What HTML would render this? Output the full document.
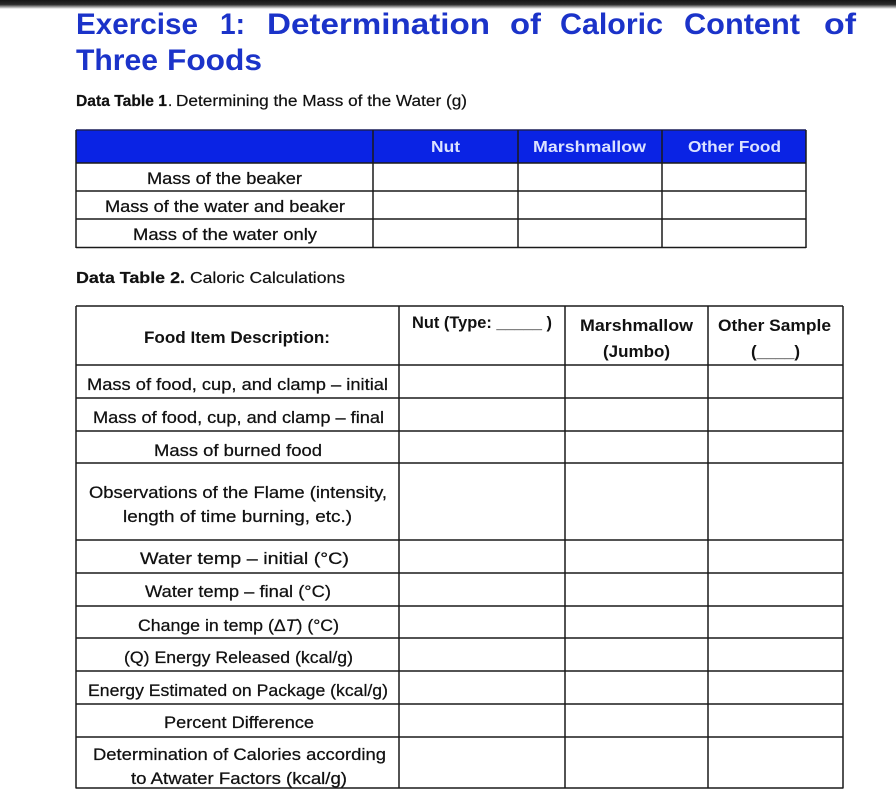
<!DOCTYPE html>
<html>
<head>
<meta charset="utf-8">
<style>
  html, body { margin:0; padding:0; background:#fff; }
  svg { display:block; }
  text { font-family: "Liberation Sans", sans-serif; }
</style>
</head>
<body>
<svg width="896" height="796" viewBox="0 0 896 796" xmlns="http://www.w3.org/2000/svg">
  <defs>
    <linearGradient id="topbar" x1="0" y1="0" x2="0" y2="1">
      <stop offset="0" stop-color="#161616"/>
      <stop offset="0.5" stop-color="#2c2c2c"/>
      <stop offset="0.72" stop-color="#8a8a8a"/>
      <stop offset="1" stop-color="#ffffff"/>
    </linearGradient>
  </defs>
  <rect x="0" y="0" width="896" height="796" fill="#fff"/>
  <rect x="0" y="0" width="896" height="9" fill="url(#topbar)"/>

  <!-- Title -->
  <g font-size="30" font-weight="bold" fill="#1b33c9">
    <text x="76" y="34" textLength="122" lengthAdjust="spacingAndGlyphs">Exercise</text>
    <text x="220" y="34" textLength="25" lengthAdjust="spacingAndGlyphs">1:</text>
    <text x="267" y="34" textLength="223" lengthAdjust="spacingAndGlyphs">Determination</text>
    <text x="510" y="34" textLength="31" lengthAdjust="spacingAndGlyphs">of</text>
    <text x="560" y="34" textLength="103" lengthAdjust="spacingAndGlyphs">Caloric</text>
    <text x="684" y="34" textLength="116" lengthAdjust="spacingAndGlyphs">Content</text>
    <text x="824" y="34" textLength="32" lengthAdjust="spacingAndGlyphs">of</text>
    <text x="76" y="70" textLength="82" lengthAdjust="spacingAndGlyphs">Three</text>
    <text x="167" y="70" textLength="95" lengthAdjust="spacingAndGlyphs">Foods</text>
  </g>

  <!-- Subtitle 1 -->
  <g font-size="15.5" fill="#111" stroke="#111" stroke-width="0.2">
    <text x="76" y="106" font-weight="bold" textLength="91" lengthAdjust="spacingAndGlyphs">Data Table 1</text>
    <text x="168" y="106">.</text>
    <text x="176" y="106" textLength="291" lengthAdjust="spacingAndGlyphs">Determining the Mass of the Water (g)</text>
  </g>

  <!-- Table 1 -->
  <rect x="76" y="130" width="730" height="33" fill="#0a23e4"/>
  <g stroke="#1a1a1a" stroke-width="1.5" fill="none">
    <line x1="76" y1="130" x2="806" y2="130" stroke="#1a1f5a"/>
    <line x1="76" y1="163" x2="806" y2="163"/>
    <line x1="76" y1="191" x2="806" y2="191"/>
    <line x1="76" y1="219" x2="806" y2="219"/>
    <line x1="76" y1="247.5" x2="806" y2="247.5"/>
    <line x1="76" y1="130" x2="76" y2="248"/>
    <line x1="373" y1="130" x2="373" y2="248"/>
    <line x1="518" y1="130" x2="518" y2="248"/>
    <line x1="662" y1="130" x2="662" y2="248"/>
    <line x1="806" y1="130" x2="806" y2="248"/>
  </g>
  <g font-size="16" font-weight="bold" fill="#dbe2ff">
    <text x="431" y="152" textLength="29" lengthAdjust="spacingAndGlyphs">Nut</text>
    <text x="533" y="152" textLength="113" lengthAdjust="spacingAndGlyphs">Marshmallow</text>
    <text x="688" y="152" textLength="93" lengthAdjust="spacingAndGlyphs">Other Food</text>
  </g>
  <g font-size="16.5" fill="#111" stroke="#111" stroke-width="0.25">
    <text x="147" y="184" textLength="155" lengthAdjust="spacingAndGlyphs">Mass of the beaker</text>
    <text x="105" y="212" textLength="240" lengthAdjust="spacingAndGlyphs">Mass of the water and beaker</text>
    <text x="133" y="240" textLength="184" lengthAdjust="spacingAndGlyphs">Mass of the water only</text>
  </g>

  <!-- Subtitle 2 -->
  <g font-size="15.5" fill="#111" stroke="#111" stroke-width="0.2">
    <text x="76" y="283" font-weight="bold" textLength="109" lengthAdjust="spacingAndGlyphs">Data Table 2.</text>
    <text x="190" y="283" textLength="155" lengthAdjust="spacingAndGlyphs">Caloric Calculations</text>
  </g>

  <!-- Table 2 -->
  <g stroke="#1a1a1a" stroke-width="1.5" fill="none">
    <line x1="76" y1="306" x2="843" y2="306"/>
    <line x1="76" y1="365" x2="843" y2="365"/>
    <line x1="76" y1="398" x2="843" y2="398"/>
    <line x1="76" y1="431" x2="843" y2="431"/>
    <line x1="76" y1="463" x2="843" y2="463"/>
    <line x1="76" y1="540" x2="843" y2="540"/>
    <line x1="76" y1="573" x2="843" y2="573"/>
    <line x1="76" y1="606" x2="843" y2="606"/>
    <line x1="76" y1="638" x2="843" y2="638"/>
    <line x1="76" y1="671" x2="843" y2="671"/>
    <line x1="76" y1="704" x2="843" y2="704"/>
    <line x1="76" y1="737" x2="843" y2="737"/>
    <line x1="76" y1="788" x2="843" y2="788"/>
    <line x1="76" y1="306" x2="76" y2="788.5"/>
    <line x1="399" y1="306" x2="399" y2="788.5"/>
    <line x1="565" y1="306" x2="565" y2="788.5"/>
    <line x1="708" y1="306" x2="708" y2="788.5"/>
    <line x1="843" y1="306" x2="843" y2="788.5"/>
  </g>
  <g font-size="16.5" font-weight="bold" fill="#111">
    <text x="144" y="343" textLength="186" lengthAdjust="spacingAndGlyphs">Food Item Description:</text>
    <text x="412" y="328" textLength="140" lengthAdjust="spacingAndGlyphs">Nut (Type: _____ )</text>
    <text x="580" y="331" textLength="113" lengthAdjust="spacingAndGlyphs">Marshmallow</text>
    <text x="603" y="357" textLength="67" lengthAdjust="spacingAndGlyphs">(Jumbo)</text>
    <text x="718" y="331" textLength="113" lengthAdjust="spacingAndGlyphs">Other Sample</text>
    <text x="751" y="357" textLength="49" lengthAdjust="spacingAndGlyphs">(____)</text>
  </g>
  <g font-size="17" fill="#111" stroke="#111" stroke-width="0.25">
    <text x="87" y="390" textLength="301" lengthAdjust="spacingAndGlyphs">Mass of food, cup, and clamp – initial</text>
    <text x="93" y="423" textLength="291" lengthAdjust="spacingAndGlyphs">Mass of food, cup, and clamp – final</text>
    <text x="154" y="456" textLength="168" lengthAdjust="spacingAndGlyphs">Mass of burned food</text>
    <text x="89" y="498" textLength="298" lengthAdjust="spacingAndGlyphs">Observations of the Flame (intensity,</text>
    <text x="123" y="522" textLength="229" lengthAdjust="spacingAndGlyphs">length of time burning, etc.)</text>
    <text x="140" y="564" textLength="209" lengthAdjust="spacingAndGlyphs">Water temp – initial (°C)</text>
    <text x="145" y="597" textLength="186" lengthAdjust="spacingAndGlyphs">Water temp – final (°C)</text>
    <text x="138" y="631" textLength="201" lengthAdjust="spacingAndGlyphs">Change in temp (Δ<tspan font-style="italic">T</tspan>) (°C)</text>
    <text x="124" y="663" textLength="229" lengthAdjust="spacingAndGlyphs">(Q) Energy Released (kcal/g)</text>
    <text x="88" y="696" textLength="300" lengthAdjust="spacingAndGlyphs">Energy Estimated on Package (kcal/g)</text>
    <text x="164" y="728" textLength="150" lengthAdjust="spacingAndGlyphs">Percent Difference</text>
    <text x="93" y="760" textLength="293" lengthAdjust="spacingAndGlyphs">Determination of Calories according</text>
    <text x="131" y="784" textLength="216" lengthAdjust="spacingAndGlyphs">to Atwater Factors (kcal/g)</text>
  </g>
</svg>
</body>
</html>
